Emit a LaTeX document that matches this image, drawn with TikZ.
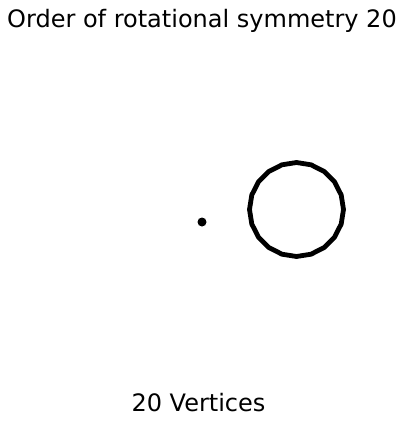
\documentclass[tikz,border=0pt]{standalone}
\usepackage{fontspec}
\setmainfont{DejaVu Sans}
\usetikzlibrary{calc}
\begin{document}
\begin{tikzpicture}[x=1pt,y=-1pt,
  lbl/.style={font=\fontsize{24}{28}\selectfont, inner sep=0pt, anchor=base},
  poly/.style={line width=4.8pt, line join=round},
  dotc/.style={circle, fill=black, inner sep=0pt, minimum size=9pt}]
\useasboundingbox (0,0) rectangle (404,424);
\node[lbl] (title) at (202,27) {Order of rotational symmetry 20};
\node[lbl] (caption) at (198.5,411) {20 Vertices};
\node[dotc] (centre) at (202,222) {};
\coordinate (c) at (296.5,209.5);
\draw[poly] ($(c)+(0:47)$) \foreach \k in {1,...,19} { -- ($(c)+({\k*18}:47)$) } -- cycle;
\end{tikzpicture}
\end{document}
